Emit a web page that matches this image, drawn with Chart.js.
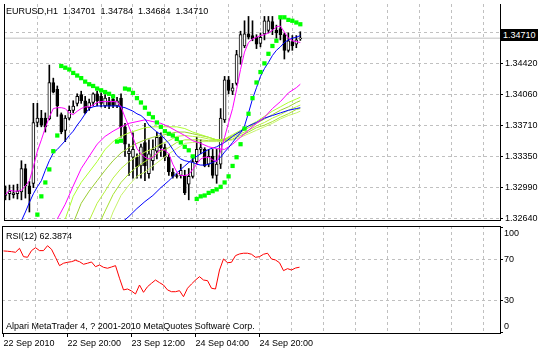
<!DOCTYPE html>
<html>
<head>
<meta charset="utf-8">
<script src="https://cdn.jsdelivr.net/npm/chart.js@4.4.1/dist/chart.umd.min.js"></script>
<style>
  body { margin: 0; background: #fff; }
  #wrap { position: relative; width: 538px; height: 351px; overflow: hidden;
          font-family: 'Liberation Sans', Arial, sans-serif; font-size: 9px; }
  #mainBox { position: absolute; left: 0; top: 0; }
  #rsiBox { position: absolute; left: 0; top: 224px; }
  .lbl { position: absolute; white-space: pre; color: #000; line-height: 10px; }
  #bidBox { position: absolute; left: 501px; top: 29px; width: 37px; height: 12px;
            background: #000; color: #fff; line-height: 12px; padding-left: 2px; box-sizing: border-box; }
</style>
</head>
<body>
<div id="wrap">
  <canvas id="mainBox" width="538" height="224"></canvas>
  <canvas id="rsiBox" width="538" height="127"></canvas>
  <div class="lbl" style="left:6px; top:6px;">EURUSD,H1  1.34701  1.34784  1.34684  1.34710</div>
  <div class="lbl" style="left:6px; top:231px;">RSI(12) 62.3874</div>
  <div class="lbl" style="left:6px; top:321px;">Alpari MetaTrader 4, ? 2001-2010 MetaQuotes Software Corp.</div>
  <div id="bidBox">1.34710</div>
</div>
<script>
// EURUSD H1 bars, 22 Sep 2010 00:00 onwards (one entry per hour)
const opens = [
    1.3291, 1.3292, 1.3291, 1.3292, 1.3294, 1.3321, 1.3301, 1.3304, 1.3374, 1.3379,
    1.3379, 1.3378, 1.3420, 1.3412, 1.3383, 1.3365, 1.3379, 1.3388, 1.3396, 1.3406,
    1.3399, 1.3391, 1.3397, 1.3407, 1.3404, 1.3393, 1.3399, 1.3401, 1.3393, 1.3402,
    1.3369, 1.3338, 1.3334, 1.3334, 1.3324, 1.3351, 1.3315, 1.3330, 1.3341, 1.3357,
    1.3345, 1.3334, 1.3317, 1.3313, 1.3313, 1.3313, 1.3303, 1.3312, 1.3329, 1.3343,
    1.3343, 1.3326, 1.3335, 1.3313, 1.3326, 1.3377, 1.3423, 1.3410, 1.3419, 1.3449,
    1.3462, 1.3476, 1.3474, 1.3472, 1.3465, 1.3476, 1.3480, 1.3490, 1.3480, 1.3482,
    1.3475, 1.3457, 1.3467, 1.3464, 1.34701
];
const highs = [
    1.3301, 1.3302, 1.3302, 1.3303, 1.3330, 1.3326, 1.3306, 1.3396, 1.3396, 1.3388,
    1.3385, 1.3440, 1.3425, 1.3416, 1.3385, 1.3382, 1.3393, 1.3399, 1.3407, 1.3410,
    1.3404, 1.3401, 1.3408, 1.3410, 1.3408, 1.3406, 1.3403, 1.3406, 1.3403, 1.3407,
    1.3373, 1.3349, 1.3362, 1.3338, 1.3349, 1.3373, 1.3354, 1.3354, 1.3363, 1.3362,
    1.3349, 1.3338, 1.3321, 1.3315, 1.3326, 1.3319, 1.3321, 1.3335, 1.3357, 1.3354,
    1.3345, 1.3343, 1.3343, 1.3343, 1.3390, 1.3427, 1.3427, 1.3419, 1.3457, 1.3479,
    1.3491, 1.3496, 1.3491, 1.3475, 1.3477, 1.3496, 1.3496, 1.3496, 1.3486, 1.3496,
    1.3477, 1.3477, 1.3474, 1.3474, 1.34784
];
const lows = [
    1.3285, 1.3285, 1.3287, 1.3286, 1.3285, 1.3287, 1.3271, 1.3299, 1.3369, 1.3369,
    1.3363, 1.3377, 1.3408, 1.3381, 1.3361, 1.3352, 1.3377, 1.3385, 1.3393, 1.3396,
    1.3384, 1.3388, 1.3393, 1.3393, 1.3392, 1.3391, 1.3390, 1.3391, 1.3391, 1.3357,
    1.3335, 1.3313, 1.3310, 1.3310, 1.3310, 1.3307, 1.3310, 1.3319, 1.3332, 1.3335,
    1.3330, 1.3313, 1.3310, 1.3310, 1.3310, 1.3291, 1.3285, 1.3310, 1.3326, 1.3338,
    1.3323, 1.3323, 1.3310, 1.3304, 1.3321, 1.3374, 1.3407, 1.3406, 1.3417, 1.3441,
    1.3460, 1.3470, 1.3468, 1.3459, 1.3461, 1.3469, 1.3477, 1.3475, 1.3471, 1.3469,
    1.3447, 1.3455, 1.3457, 1.3460, 1.34684
];
const closes = [
    1.3290, 1.3295, 1.3293, 1.3295, 1.3321, 1.3301, 1.3292, 1.3374, 1.3379, 1.3371,
    1.3369, 1.3420, 1.3409, 1.3393, 1.3363, 1.3379, 1.3388, 1.3393, 1.3404, 1.3399,
    1.3385, 1.3397, 1.3407, 1.3399, 1.3396, 1.3402, 1.3393, 1.3393, 1.3399, 1.3369,
    1.3349, 1.3341, 1.3343, 1.3323, 1.3346, 1.3324, 1.3338, 1.3343, 1.3357, 1.3345,
    1.3334, 1.3317, 1.3312, 1.3312, 1.3319, 1.3293, 1.3312, 1.3329, 1.3343, 1.3345,
    1.3324, 1.3335, 1.3313, 1.3326, 1.3379, 1.3423, 1.3411, 1.3414, 1.3452, 1.3475,
    1.3476, 1.3472, 1.3470, 1.3464, 1.3472, 1.3491, 1.3491, 1.3482, 1.3477, 1.3475,
    1.3457, 1.3468, 1.3462, 1.3469, 1.34710
];

// Parabolic SAR
const sar = [
    null, null, null, null, null, null, null, null, 1.3268, 1.3289,
    1.3305, 1.3320, 1.3341, 1.3359, 1.3439, 1.3437, 1.3435, 1.3431, 1.3428, 1.3425,
    1.3421, 1.3418, 1.3416, 1.3413, 1.3411, 1.3409, 1.3407, 1.3404, 1.3352, 1.3353,
    1.3413, 1.3412, 1.3408, 1.3402, 1.3397, 1.3391, 1.3384, 1.3380, 1.3374, 1.3369,
    1.3364, 1.3361, 1.3359, 1.3355, 1.3351, 1.3346, 1.3342, 1.3335, 1.3286, 1.3289,
    1.3290, 1.3293, 1.3295, 1.3297, 1.3300, 1.3305, 1.3312, 1.3324, 1.3334, 1.3349,
    1.3367, 1.3384, 1.3402, 1.3420, 1.3432, 1.3442, 1.3453, 1.3462, 1.3468, 1.3495,
    1.3495, 1.3492, 1.3491, 1.3489, 1.3487
];

// fast moving average (magenta) and medium one (blue), one value per bar
const maFast = [
    1.3291, 1.3296, 1.3295, 1.3295, 1.3296, 1.3301, 1.3307, 1.3323, 1.3341, 1.3354,
    1.3368, 1.3380, 1.3390, 1.3391, 1.3391, 1.3390, 1.3385, 1.3383, 1.3387, 1.3390,
    1.3392, 1.3392, 1.3394, 1.3397, 1.3398, 1.3398, 1.3398, 1.3398, 1.3398, 1.3392,
    1.3380, 1.3369, 1.3357, 1.3344, 1.3338, 1.3334, 1.3332, 1.3334, 1.3339, 1.3343,
    1.3342, 1.3338, 1.3326, 1.3317, 1.3313, 1.3313, 1.3314, 1.3320, 1.3326, 1.3332,
    1.3334, 1.3334, 1.3331, 1.3329, 1.3341, 1.3357, 1.3374, 1.3390, 1.3412, 1.3435,
    1.3455, 1.3466, 1.3470, 1.3472, 1.3474, 1.3475, 1.3477, 1.3480, 1.3484, 1.3485,
    1.3478, 1.3471, 1.3468, 1.3467, 1.3466
];
const maMid = [
    null, null, null, null, 1.3261, 1.3271, 1.3282, 1.3292, 1.3300, 1.3307,
    1.3319, 1.3330, 1.3339, 1.3343, 1.3348, 1.3353, 1.3359, 1.3364, 1.3371, 1.3377,
    1.3384, 1.3390, 1.3392, 1.3393, 1.3393, 1.3393, 1.3393, 1.3393, 1.3393, 1.3392,
    1.3391, 1.3389, 1.3387, 1.3384, 1.3382, 1.3378, 1.3371, 1.3367, 1.3363, 1.3360,
    1.3355, 1.3350, 1.3343, 1.3336, 1.3332, 1.3330, 1.3329, 1.3328, 1.3326, 1.3325,
    1.3325, 1.3326, 1.3328, 1.3330, 1.3334, 1.3340, 1.3345, 1.3351, 1.3357, 1.3362,
    1.3370, 1.3385, 1.3401, 1.3414, 1.3427, 1.3436, 1.3443, 1.3451, 1.3457, 1.3461,
    1.3466, 1.3469, 1.3471, 1.3472, 1.3474
];

// slower averages, read every second bar
const maBars = [13, 15, 17, 19, 21, 23, 25, 27, 29, 31, 33, 35, 37, 39, 41, 43,
                45, 47, 49, 51, 53, 55, 57, 59, 61, 63, 65, 67, 69, 71, 73, 74];
const maSlowPink = [1.3263, 1.3280, 1.3301, 1.3321, 1.3335, 1.3349, 1.3358, 1.3364, 1.3369, 1.3373, 1.3375, 1.3377, 1.3375, 1.3373, 1.3369, 1.3364,
                    1.3359, 1.3353, 1.3350, 1.3346, 1.3344, 1.3343, 1.3349, 1.3357, 1.3365, 1.3373, 1.3380, 1.3390, 1.3398, 1.3408, 1.3414, 1.3418];
const maSlowBlue = [null, null, null, null, null, null, null, null, 1.3258, 1.3266, 1.3275, 1.3283, 1.3290, 1.3299, 1.3307, 1.3316,
                    1.3324, 1.3332, 1.3338, 1.3343, 1.3346, 1.3351, 1.3358, 1.3364, 1.3370, 1.3374, 1.3379, 1.3382, 1.3385, 1.3388, 1.3390, 1.3391];
const ma1 = [null, 1.3263, 1.3289, 1.3305, 1.3317, 1.3329, 1.3343, 1.3352, 1.3358, 1.3362, 1.3365, 1.3368, 1.3369, 1.3369, 1.3369, 1.3369,
             1.3367, 1.3363, 1.3360, 1.3357, 1.3354, 1.3355, 1.3360, 1.3365, 1.3370, 1.3375, 1.3381, 1.3387, 1.3392, 1.3397, 1.3401, 1.3403];
const ma2 = [null, null, 1.3258, 1.3281, 1.3295, 1.3307, 1.3319, 1.3330, 1.3339, 1.3345, 1.3350, 1.3354, 1.3357, 1.3359, 1.3361, 1.3363,
             1.3363, 1.3361, 1.3359, 1.3357, 1.3354, 1.3354, 1.3359, 1.3363, 1.3368, 1.3373, 1.3378, 1.3383, 1.3388, 1.3392, 1.3397, 1.3399];
const ma3 = [null, null, null, null, 1.3261, 1.3281, 1.3295, 1.3310, 1.3321, 1.3329, 1.3335, 1.3340, 1.3344, 1.3349, 1.3353, 1.3358,
             1.3359, 1.3358, 1.3357, 1.3355, 1.3354, 1.3354, 1.3357, 1.3361, 1.3365, 1.3370, 1.3374, 1.3379, 1.3383, 1.3388, 1.3392, 1.3394];
const ma4 = [null, null, null, null, null, 1.3252, 1.3272, 1.3291, 1.3305, 1.3315, 1.3323, 1.3329, 1.3335, 1.3341, 1.3345, 1.3351,
             1.3354, 1.3354, 1.3354, 1.3353, 1.3353, 1.3353, 1.3355, 1.3359, 1.3363, 1.3368, 1.3371, 1.3375, 1.3380, 1.3384, 1.3389, 1.3390];
const ma5 = [null, null, null, null, null, null, 1.3247, 1.3271, 1.3290, 1.3302, 1.3312, 1.3317, 1.3324, 1.3331, 1.3338, 1.3344,
             1.3350, 1.3351, 1.3352, 1.3352, 1.3352, 1.3352, 1.3354, 1.3357, 1.3361, 1.3365, 1.3369, 1.3373, 1.3378, 1.3382, 1.3385, 1.3387];

// RSI(12)
const rsi = [
    78.0, 77.7, 77.3, 76.7, 80.5, 72.5, 71.9, 78.3, 81.1, 78.3,
    78.3, 83.0, 79.6, 71.9, 63.9, 66.2, 67.1, 67.7, 69.0, 67.7,
    65.2, 66.2, 67.4, 62.9, 64.5, 62.3, 61.4, 62.6, 63.9, 51.8,
    40.6, 41.5, 39.6, 36.7, 45.3, 38.3, 43.7, 47.0, 50.1, 47.6,
    45.3, 40.6, 38.9, 38.9, 39.9, 34.1, 42.2, 46.3, 50.1, 53.3,
    50.1, 49.5, 42.2, 41.5, 59.7, 70.3, 66.7, 67.1, 73.5, 75.1,
    75.8, 75.8, 74.8, 71.9, 72.5, 74.8, 75.8, 70.3, 69.3, 66.7,
    59.1, 61.0, 59.7, 61.6, 62.39
];

const bidPrice = 1.34710;
const priceTicks = [1.34780, 1.34420, 1.34060, 1.33710, 1.33350, 1.32990, 1.32640];
const rsiTicks = [100, 70, 30, 0];
const rsiGrid = [70, 30];
const timeTickBars = [0, 16, 32, 48, 64];
const timeLabels = ['22 Sep 2010', '22 Sep 20:00', '23 Sep 12:00', '24 Sep 04:00', '24 Sep 20:00'];

// visible window: 124.5 bar slots, the rest is empty space on the right like MT4
const xMin = -0.375;
const xMax = 124.125;
const gridColor = '#c0c0c0';

Chart.defaults.font.family = "'Liberation Sans', Arial, sans-serif";
Chart.defaults.font.size = 9;
Chart.defaults.color = '#000';

// helper: turn a per-bar array into {x, y} points
function perBar(values) {
    return values.map((v, i) => ({ x: i, y: v }));
}
function sampled(values) {
    return values.map((v, i) => ({ x: maBars[i], y: v }));
}
function lineSet(data, color) {
    return { type: 'line', data: data, borderColor: color, borderWidth: 1, pointRadius: 0, tension: 0, fill: false };
}
function timeGridTicks(scale) {
    const t = [];
    for (let v = 0; v <= 120; v += 8) t.push({ value: v });
    scale.ticks = t;
}

// black frame round each panel
const panelFrame = {
    id: 'panelFrame',
    afterDraw(chart, args, opts) {
        const { ctx, chartArea: a } = chart;
        ctx.save();
        ctx.fillStyle = '#000';
        ctx.fillRect(a.left, a.top, 1, a.bottom - a.top + 1);
        ctx.fillRect(a.right, a.top, 1, a.bottom - a.top + 1);
        ctx.fillRect(a.left, a.bottom, a.right - a.left + 1, 1);
        if (opts.top) ctx.fillRect(a.left, a.top, a.right - a.left + 1, 1);
        ctx.restore();
    }
};

const candleBodies = opens.map((o, i) => ({ x: i, y: [o, closes[i]] }));
const candleWicks = lows.map((l, i) => ({ x: i, y: [l, highs[i]] }));
const bodyColors = opens.map((o, i) => closes[i] >= o ? '#ffffff' : '#000000');

new Chart(document.getElementById('mainBox'), {
    type: 'bar',
    data: {
        datasets: [
            {
                type: 'line', data: perBar(sar), showLine: false,
                pointStyle: 'rect', pointRadius: 3, pointBackgroundColor: '#00ff00', pointBorderWidth: 0
            },
            lineSet(perBar(maFast), '#ff00ff'),
            lineSet(perBar(maMid), '#0000ff'),
            lineSet(sampled(maSlowPink), '#ff00ff'),
            lineSet(sampled(maSlowBlue), '#0000ff'),
            lineSet(sampled(ma1), '#adff2f'),
            lineSet(sampled(ma2), '#9acd32'),
            lineSet(sampled(ma3), '#b8f040'),
            lineSet(sampled(ma4), '#a6e22e'),
            lineSet(sampled(ma5), '#c6f26a'),
            {
                data: candleBodies, backgroundColor: bodyColors, borderColor: '#000', borderWidth: 1,
                borderSkipped: false, barThickness: 3, grouped: false
            },
            {
                data: candleWicks, backgroundColor: '#000', borderWidth: 0, barThickness: 1, grouped: false
            },
            lineSet([{ x: xMin, y: bidPrice }, { x: xMax, y: bidPrice }], '#c0c0c0')
        ]
    },
    options: {
        responsive: false,
        animation: false,
        layout: { padding: { left: 2, right: 0, top: 0, bottom: 1 } },
        plugins: { legend: { display: false }, tooltip: { enabled: false }, panelFrame: { top: false } },
        scales: {
            x: {
                type: 'linear', min: xMin, max: xMax, offset: false,
                afterBuildTicks: timeGridTicks,
                afterFit: s => { s.height = 0; s.paddingLeft = 0; s.paddingRight = 0; },
                ticks: { display: false },
                grid: {
                    drawTicks: false, offset: false,
                    color: c => (c.tick && c.tick.value > 0) ? gridColor : 'rgba(0,0,0,0)'
                },
                border: { display: false, dash: [3, 3] }
            },
            y: {
                type: 'linear', position: 'right', min: 1.32618, max: 1.35103,
                afterBuildTicks: s => { s.ticks = priceTicks.map(v => ({ value: v })); },
                afterFit: s => { s.width = 38; s.paddingTop = 0; s.paddingBottom = 0; },
                ticks: { callback: v => v.toFixed(5), padding: 2, autoSkip: false },
                grid: { color: gridColor, tickColor: '#000', tickLength: 3 },
                border: { display: false, dash: [3, 3] }
            }
        }
    },
    plugins: [panelFrame]
});

new Chart(document.getElementById('rsiBox'), {
    type: 'line',
    data: {
        datasets: [lineSet(perBar(rsi), '#ff0000')]
    },
    options: {
        responsive: false,
        animation: false,
        layout: { padding: { left: 2, right: 0, top: 2, bottom: 0 } },
        plugins: { legend: { display: false }, tooltip: { enabled: false }, panelFrame: { top: true } },
        scales: {
            x: {
                type: 'linear', min: xMin, max: xMax, offset: false,
                afterBuildTicks: timeGridTicks,
                afterFit: s => { s.height = 18; s.paddingLeft = 0; s.paddingRight = 0; },
                ticks: {
                    autoSkip: false, maxRotation: 0, align: 'start', padding: 1,
                    callback: v => {
                        const k = timeTickBars.indexOf(v);
                        return k >= 0 ? timeLabels[k] : '';
                    }
                },
                grid: {
                    tickLength: 4, offset: false,
                    color: c => (c.tick && c.tick.value > 0) ? gridColor : 'rgba(0,0,0,0)',
                    tickColor: c => (c.tick && timeTickBars.includes(c.tick.value)) ? '#000' : 'rgba(0,0,0,0)'
                },
                border: { display: false, dash: [3, 3] }
            },
            y: {
                type: 'linear', position: 'right', min: -0.7, max: 101.9,
                afterBuildTicks: s => { s.ticks = rsiTicks.map(v => ({ value: v })); },
                afterFit: s => { s.width = 38; s.paddingTop = 0; s.paddingBottom = 0; },
                ticks: {
                    padding: 1, autoSkip: false,
                    // like MT4, the 100 and 0 labels sit just inside the panel
                    callback: v => v === 100 ? ['', '100'] : v === 0 ? ['0', ''] : String(v)
                },
                grid: {
                    tickColor: '#000', tickLength: 3,
                    color: c => (c.tick && rsiGrid.includes(c.tick.value)) ? gridColor : 'rgba(0,0,0,0)'
                },
                border: { display: false, dash: [3, 3] }
            }
        }
    },
    plugins: [panelFrame]
});
</script>
</body>
</html>
